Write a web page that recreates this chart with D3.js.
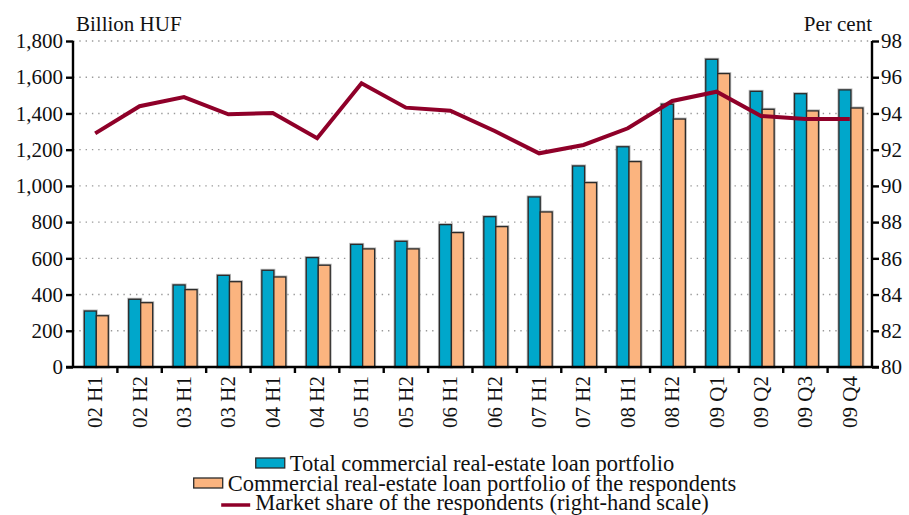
<!DOCTYPE html>
<html>
<head>
<meta charset="utf-8">
<script src="https://cdn.jsdelivr.net/npm/d3@7"></script>
<style>
  html, body { margin: 0; padding: 0; background: #fff; }
  svg { display: block; }
  text { font-family: "Liberation Serif", "DejaVu Serif", serif; fill: #111; }
</style>
</head>
<body>
<svg id="chart" width="909" height="515"></svg>
<script>
// Commercial real-estate loan portfolio (billion HUF) and respondents' market share (%)
const categories = ["02 H1","02 H2","03 H1","03 H2","04 H1","04 H2","05 H1","05 H2","06 H1","06 H2",
                    "07 H1","07 H2","08 H1","08 H2","09 Q1","09 Q2","09 Q3","09 Q4"];
const totalPortfolio = [309, 374, 453, 506, 534, 604, 677, 694, 786, 830,
                        939, 1110, 1216, 1451, 1699, 1522, 1509, 1530];
const respondentsPortfolio = [283, 355, 427, 471, 497, 562, 652, 652, 742, 775,
                              856, 1018, 1134, 1369, 1620, 1423, 1414, 1430];
const marketShare = [92.9, 94.4, 94.9, 93.95, 94.03, 92.63, 95.67, 94.32, 94.15, 93.03,
                     91.8, 92.26, 93.18, 94.69, 95.2, 93.86, 93.69, 93.69];
const leftTicks = [0, 200, 400, 600, 800, 1000, 1200, 1400, 1600, 1800];
const rightTicks = [80, 82, 84, 86, 88, 90, 92, 94, 96, 98];
const seriesNames = ["total", "respondents"];
const legendLabels = ["Total commercial real-estate loan portfolio",
                      "Commercial real-estate loan portfolio of the respondents",
                      "Market share of the respondents (right-hand scale)"];

const colors = { total: "#00A7CB", respondents: "#FBB47F", share: "#8F0029" };

const svg = d3.select("#chart");
const plotLeft = 73, plotRight = 872, plotTop = 41, plotBottom = 367;

const x = d3.scaleBand().domain(categories).range([plotLeft, plotRight]).padding(0);
const bw = x.bandwidth();
const xSub = d3.scaleBand().domain(seriesNames).range([bw * 0.255, bw * 0.795]).padding(0);
const yL = d3.scaleLinear().domain([0, 1800]).range([plotBottom, plotTop]);
const yR = d3.scaleLinear().domain([80, 98]).range([plotBottom, plotTop]);

// dotted horizontal gridlines
svg.append("g").selectAll("line").data(leftTicks.slice(1)).join("line")
  .attr("x1", plotLeft).attr("x2", plotRight)
  .attr("y1", d => yL(d)).attr("y2", d => yL(d))
  .attr("stroke", "#9a9a9a").attr("stroke-width", 1.4)
  .attr("stroke-dasharray", "1.4 4.9");

// bars, with a faint grey halo around each outline
const rows = categories.map((c, i) => ({ cat: c, total: totalPortfolio[i], respondents: respondentsPortfolio[i] }));
const groups = svg.append("g").selectAll("g").data(rows).join("g")
  .attr("transform", d => `translate(${x(d.cat)},0)`);
const barData = d => seriesNames.map(s => ({ s, v: d[s] }));
groups.selectAll("rect.halo").data(barData).join("rect").attr("class", "halo")
  .attr("x", d => xSub(d.s))
  .attr("width", xSub.bandwidth())
  .attr("y", d => yL(d.v))
  .attr("height", d => yL(0) - yL(d.v))
  .attr("fill", "none")
  .attr("stroke", "#b8b8b8").attr("stroke-width", 3);
groups.selectAll("rect.bar").data(barData).join("rect").attr("class", "bar")
  .attr("x", d => xSub(d.s))
  .attr("width", xSub.bandwidth())
  .attr("y", d => yL(d.v))
  .attr("height", d => yL(0) - yL(d.v))
  .attr("fill", d => colors[d.s])
  .attr("stroke", "#2b2b2b").attr("stroke-width", 1.3);

// market share line on the right-hand scale
const line = d3.line()
  .x((d, i) => x(categories[i]) + bw / 2)
  .y(d => yR(d));
svg.append("path").datum(marketShare)
  .attr("d", line)
  .attr("fill", "none")
  .attr("stroke", colors.share)
  .attr("stroke-width", 4)
  .attr("stroke-linejoin", "miter");

// axes
const fontSize = 21;
const axisL = d3.axisLeft(yL).tickValues(leftTicks).tickSize(7).tickPadding(3)
  .tickFormat(d3.format(","));
const gL = svg.append("g").attr("transform", `translate(${plotLeft},0)`).call(axisL);
const axisR = d3.axisRight(yR).tickValues(rightTicks).tickSize(7).tickPadding(2);
const gR = svg.append("g").attr("transform", `translate(${plotRight},0)`).call(axisR);
const axisB = d3.axisBottom(x).tickSize(0).tickPadding(0);
const gB = svg.append("g").attr("transform", `translate(0,${plotBottom})`).call(axisB);

[gL, gR, gB].forEach(g => {
  g.select(".domain").attr("stroke", "#000").attr("stroke-width", 2.4);
  g.selectAll(".tick line").attr("stroke", "#000").attr("stroke-width", 2.4);
  g.selectAll("text").attr("font-family", "Liberation Serif, serif")
    .attr("font-size", fontSize).attr("fill", "#111");
});
gL.select(".domain").attr("d", `M0,${plotTop}V${plotBottom}`);
gR.select(".domain").attr("d", `M0,${plotTop}V${plotBottom}`);
gB.select(".domain").attr("d", `M${plotLeft - 7},0H${plotRight + 7}`);

// category separators on the x axis
svg.append("g").selectAll("line").data(categories.slice(1)).join("line")
  .attr("x1", d => x(d)).attr("x2", d => x(d))
  .attr("y1", plotBottom).attr("y2", plotBottom + 6)
  .attr("stroke", "#000").attr("stroke-width", 2.4);

// rotated category labels
gB.selectAll(".tick text")
  .attr("transform", "rotate(-90)")
  .attr("text-anchor", "end")
  .attr("x", -9).attr("y", 0).attr("dy", "0.33em");

// axis titles
svg.append("text").attr("x", 76).attr("y", 31).attr("font-size", fontSize).text("Billion HUF");
svg.append("text").attr("x", plotRight).attr("y", 31).attr("text-anchor", "end")
  .attr("font-size", fontSize).text("Per cent");

// legend, each row centred under the plot
const legendCx = 465;
const legendRows = [
  { label: legendLabels[0], kind: "rect", fill: colors.total, y: 471 },
  { label: legendLabels[1], kind: "rect", fill: colors.respondents, y: 491 },
  { label: legendLabels[2], kind: "line", fill: colors.share, y: 510 }
];
const swW = 29, gap = 5;
legendRows.forEach(r => {
  const g = svg.append("g");
  const t = g.append("text").attr("font-size", 22.5).attr("y", r.y).text(r.label);
  const tw = t.node().getComputedTextLength();
  const x0 = legendCx - (swW + gap + tw) / 2;
  t.attr("x", x0 + swW + gap);
  if (r.kind === "rect") {
    g.append("rect").attr("x", x0).attr("y", r.y - 13).attr("width", swW).attr("height", 10)
      .attr("fill", r.fill).attr("stroke", "#2b2b2b").attr("stroke-width", 1.3);
  } else {
    g.append("line").attr("x1", x0).attr("x2", x0 + swW)
      .attr("y1", r.y - 5).attr("y2", r.y - 5)
      .attr("stroke", r.fill).attr("stroke-width", 3.5);
  }
});
</script>
</body>
</html>
